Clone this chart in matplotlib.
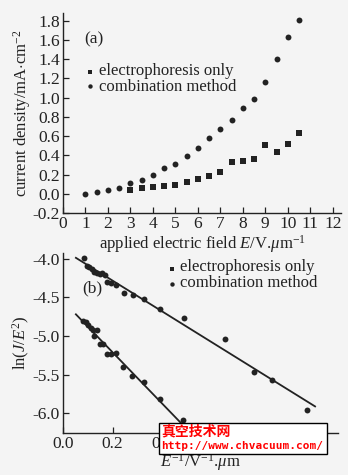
import matplotlib
matplotlib.use("Agg")
import matplotlib.pyplot as plt
import numpy as np

# ---- data panel (a) ----
field_comb = [1, 1.5, 2, 2.5, 3, 3.5, 4, 4.5, 5, 5.5, 6, 6.5, 7, 7.5, 8, 8.5, 9, 9.5, 10, 10.5]
j_comb = [0.0, 0.017, 0.035, 0.06, 0.11, 0.145, 0.19, 0.27, 0.31, 0.39, 0.48, 0.585,
          0.67, 0.765, 0.895, 0.99, 1.165, 1.40, 1.63, 1.81]
field_ep = [3, 3.5, 4, 4.5, 5, 5.5, 6, 6.5, 7, 7.5, 8, 8.5, 9, 9.5, 10, 10.5]
j_ep = [0.04, 0.06, 0.07, 0.076, 0.093, 0.12, 0.15, 0.18, 0.225, 0.33, 0.34, 0.365,
        0.505, 0.435, 0.52, 0.635]

# ---- data panel (b) ----
inv_comb = [0.085, 0.098, 0.106, 0.116, 0.126, 0.136, 0.149, 0.156, 0.169, 0.178, 0.195,
            0.215, 0.245, 0.282, 0.326, 0.388, 0.485, 0.649, 0.767, 0.836, 0.976]
ln_comb = [-3.99, -4.09, -4.11, -4.14, -4.17, -4.19, -4.20, -4.19, -4.21, -4.30, -4.31,
           -4.34, -4.44, -4.47, -4.52, -4.65, -4.77, -5.04, -5.47, -5.57, -5.95]
inv_ep = [0.082, 0.093, 0.102, 0.112, 0.122, 0.138, 0.126, 0.149, 0.160, 0.178, 0.195,
          0.215, 0.242, 0.279, 0.324, 0.388, 0.481]
ln_ep = [-4.80, -4.82, -4.86, -4.90, -4.92, -4.92, -5.00, -5.10, -5.11, -5.23, -5.23,
         -5.22, -5.40, -5.52, -5.60, -5.82, -6.08]
fit_comb_x = [0.053, 1.01]
fit_comb_y = [-3.99, -5.91]
fit_ep_x = [0.053, 0.496]
fit_ep_y = [-4.72, -6.20]

xticks_a = list(range(0, 13))
yticks_a = [-0.2, 0.0, 0.2, 0.4, 0.6, 0.8, 1.0, 1.2, 1.4, 1.6, 1.8]
xticks_b = [0.0, 0.2, 0.4, 0.6, 0.8, 1.0]
yticks_b = [-6.0, -5.5, -5.0, -4.5, -4.0]

BG = "#f4f4f4"
INK = "#222222"
plt.rcParams["font.family"] = ["Liberation Serif", "DejaVu Serif"]
plt.rcParams["font.size"] = 12
plt.rcParams["mathtext.fontset"] = "custom"
plt.rcParams["mathtext.rm"] = "Liberation Serif"
plt.rcParams["mathtext.it"] = "Liberation Serif:italic"
plt.rcParams["mathtext.bf"] = "Liberation Serif:bold"

fig = plt.figure(figsize=(3.48, 4.75), dpi=100, facecolor=BG)

def style(ax):
    ax.set_facecolor(BG)
    for s in ("top", "right"):
        ax.spines[s].set_visible(False)
    for s in ("left", "bottom"):
        ax.spines[s].set_color(INK)
        ax.spines[s].set_linewidth(1.0)
    ax.tick_params(direction="in", length=4, width=0.9, colors=INK, labelcolor=INK,
                   labelsize=12.5, pad=2)

# panel (a)
axa = fig.add_axes([0.181, 0.5516, 0.799, 0.421])
style(axa)
axa.scatter(field_ep, j_ep, marker="s", s=16, color=INK, linewidths=0)
axa.scatter(field_comb, j_comb, marker="o", s=18, color=INK, linewidths=0)
axa.set_xlim(0, 12.37)
axa.set_ylim(-0.2, 1.88)
axa.set_xticks(xticks_a)
axa.set_yticks(yticks_a)
axa.set_yticklabels([f"{v:.1f}" for v in yticks_a])
axa.set_xlabel(r"applied electric field $\mathit{E}$/V.$\mu$m$^{-1}$", fontsize=12, color=INK, labelpad=1)
axa.set_ylabel(r"current density/mA$\cdot$cm$^{-2}$", fontsize=12, color=INK, labelpad=0)
axa.text(0.076, 0.85, "(a)", transform=axa.transAxes, fontsize=12.5, color=INK)
axa.scatter([1.22], [1.27], marker="s", s=12, color=INK, linewidths=0)
axa.scatter([1.22], [1.12], marker="o", s=10, color=INK, linewidths=0)
axa.text(1.6, 1.28, "electrophoresis only", fontsize=12, color=INK, va="center")
axa.text(1.6, 1.11, "combination method", fontsize=12, color=INK, va="center")

# panel (b)
axb = fig.add_axes([0.180, 0.089, 0.79, 0.378])
style(axb)
axb.plot(fit_comb_x, fit_comb_y, color=INK, lw=1.3)
axb.plot(fit_ep_x, fit_ep_y, color=INK, lw=1.3)
axb.scatter(inv_comb, ln_comb, marker="o", s=18, color=INK, linewidths=0)
axb.scatter(inv_ep, ln_ep, marker="o", s=18, color=INK, linewidths=0)
axb.set_xlim(0, 1.1)
axb.set_ylim(-6.25, -3.93)
axb.set_xticks(xticks_b)
axb.set_xticklabels([f"{v:.1f}" for v in xticks_b])
axb.set_yticks(yticks_b)
axb.set_yticklabels([f"{v:.1f}" for v in yticks_b])
axb.set_xlabel(r"$\mathit{E}^{-1}$/V$^{-1}$.$\mu$m", fontsize=12, color=INK, labelpad=0)
axb.set_ylabel(r"ln($\mathit{J}$/$\mathit{E}^{2}$)", fontsize=12, color=INK, labelpad=0)
axb.text(0.07, 0.78, "(b)", transform=axb.transAxes, fontsize=12.5, color=INK)
axb.scatter([0.437], [-4.13], marker="s", s=12, color=INK, linewidths=0)
axb.scatter([0.437], [-4.33], marker="o", s=10, color=INK, linewidths=0)
axb.text(0.47, -4.11, "electrophoresis only", fontsize=12, color=INK, va="center")
axb.text(0.47, -4.32, "combination method", fontsize=12, color=INK, va="center")

# watermark box
fig.patches.append(matplotlib.patches.Rectangle((159/348, 1 - 454/475), (327 - 159)/348, 31/475,
                   transform=fig.transFigure, facecolor="white", edgecolor="black", lw=1.0, zorder=10))
fig.text(161/348, 1 - 431/475, "真空技术网", color="#ff0000", fontsize=10, fontweight="bold",
         family=["Noto Sans CJK SC", "DejaVu Sans"], va="center", ha="left", zorder=11)
fig.text(161/348, 1 - 446/475, "http://www.chvacuum.com/", color="#ff0000", fontsize=8,
         fontweight="bold", family=["DejaVu Sans Mono", "DejaVu Sans"], va="center", ha="left", zorder=11)

fig.savefig("out.png", dpi=100, facecolor=BG)
